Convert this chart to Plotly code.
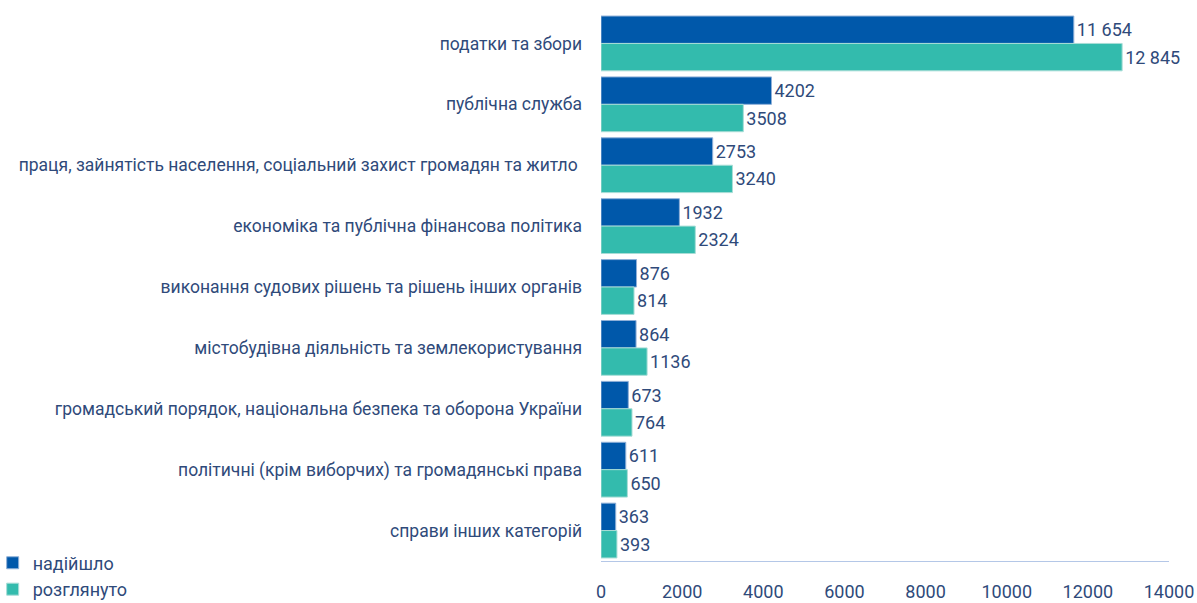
import plotly.graph_objects as go

categories = [
    "податки та збори",
    "публічна служба",
    "праця, зайнятість населення, соціальний захист громадян та житло ",
    "економіка та публічна фінансова політика",
    "виконання судових рішень та рішень інших органів",
    "містобудівна діяльність та землекористування",
    "громадський порядок, національна безпека та оборона України",
    "політичні (крім виборчих) та громадянські права",
    "справи інших категорій",
]
received = [11654, 4202, 2753, 1932, 876, 864, 673, 611, 363]
considered = [12845, 3508, 3240, 2324, 814, 1136, 764, 650, 393]
received_text = ["11 654", "4202", "2753", "1932", "876", "864", "673", "611", "363"]
considered_text = ["12 845", "3508", "3240", "2324", "814", "1136", "764", "650", "393"]
tick_vals = [0, 2000, 4000, 6000, 8000, 10000, 12000, 14000]

FONT = "Roboto, sans-serif"
TXT = "#2F4A7A"

fig = go.Figure()
fig.add_trace(go.Bar(
    y=categories, x=received, name="надійшло", orientation="h",
    marker=dict(color="#0058AA", line=dict(color="#8FB0D8", width=1)),
    text=received_text, textposition="outside", cliponaxis=False,
    textfont=dict(color=TXT, size=18, family=FONT),
))
fig.add_trace(go.Bar(
    y=categories, x=considered, name="розглянуто", orientation="h",
    marker=dict(color="#33BBAD", line=dict(color="#A8DDD6", width=1)),
    text=considered_text, textposition="outside", cliponaxis=False,
    textfont=dict(color=TXT, size=18, family=FONT),
))

fig.update_layout(
    width=1197, height=603,
    margin=dict(l=601, r=28, t=13, b=42, autoexpand=False),
    paper_bgcolor="white", plot_bgcolor="white",
    barmode="group", bargap=0.1, bargroupgap=0,
    font=dict(family=FONT, color=TXT, size=18),
    showlegend=True,
    legend=dict(
        x=-1.071, xanchor="left", y=0.03, yanchor="top",
        orientation="v", font=dict(size=18, color=TXT, family=FONT),
        itemwidth=30, tracegroupgap=0, bgcolor="rgba(0,0,0,0)",
    ),
)
fig.update_xaxes(
    range=[0, 14000], tickvals=tick_vals, ticktext=[str(v) for v in tick_vals],
    showgrid=False, zeroline=False, showline=True, linecolor="#B4C7E7", linewidth=1,
    ticks="", tickfont=dict(size=18, color=TXT, family=FONT), ticklabelstandoff=14,
    automargin=False,
)
fig.update_yaxes(
    categoryorder="array", categoryarray=categories, autorange="reversed",
    showgrid=False, showline=False, ticks="", ticklabelstandoff=18,
    tickfont=dict(size=17.5, color=TXT, family=FONT), automargin=False,
)

fig.write_html("out.html", config={"displayModeBar": False},
               post_script="document.body.style.margin='0';")
